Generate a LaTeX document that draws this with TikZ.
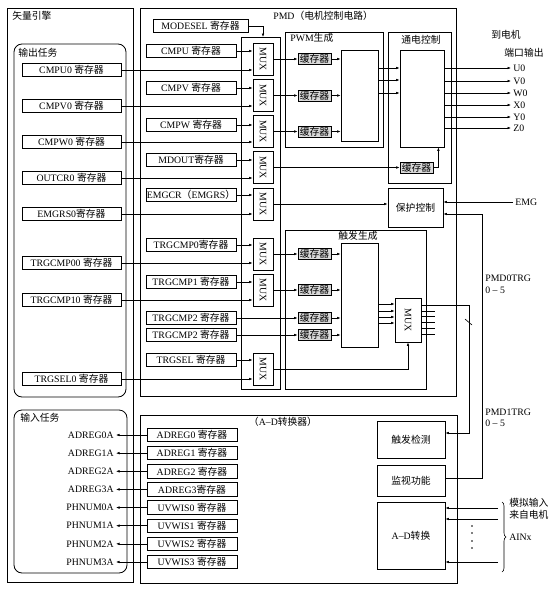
\documentclass[tikz,border=0pt]{standalone}
\usepackage{fontspec}
\setmainfont{Liberation Serif}
\newfontfamily\cjk{Noto Sans CJK SC}
\newcommand\zh[1]{{\cjk #1}}
\usetikzlibrary{arrows.meta,decorations.pathreplacing,calc}
\begin{document}
\begin{tikzpicture}[x=1pt,y=-1pt, line width=0.6pt, font=\fontsize{9.8}{11}\selectfont,
 reg/.style={draw, line width=0.8pt, minimum height=13.5pt, inner sep=0pt},
 lreg/.style={reg, minimum width=99pt},
 preg/.style={reg, minimum width=90pt},
 mux/.style={draw, line width=0.8pt, minimum width=20pt, minimum height=32pt, inner sep=0pt},
 buf/.style={draw, line width=0.8pt, fill=gray!30, minimum width=33pt, minimum height=11pt, inner sep=0pt},
 blk/.style={draw, line width=0.8pt, inner sep=0pt},
 frame/.style={draw, line width=0.8pt},
 txt/.style={inner sep=1pt},
 arr/.style={-{Latex[length=3.5pt,width=2.6pt]}}]
\useasboundingbox (0,0) rectangle (553,589);

% ---------- frames ----------
\draw[frame] (7,8) rectangle (133,582);
\node[txt, anchor=north west] (ve) at (11,10) {\zh{矢量引擎}};
\draw[frame, rounded corners=8pt] (14,44) rectangle (126,397);
\node[txt, anchor=north west] (ot) at (17,47) {\zh{输出任务}};
\draw[frame, rounded corners=8pt] (14,410) rectangle (127,573);
\node[txt, anchor=north west] (it) at (19,412) {\zh{输入任务}};
\draw[frame] (140,8) rectangle (456,396);
\node[txt, anchor=north west] (pmd) at (272,10) {PMD\zh{（电机控制电路）}};
\draw[frame] (140,415) rectangle (457,583);
\node[txt] (adl) at (283,422) {\zh{（}A–D\zh{转换器）}};
\draw[frame] (241,37) rectangle (280,389);
\coordinate (mctop) at (263,37);

% ---------- left registers ----------
\node[lreg] (cmpu0) at (71.5,70) {CMPU0 \zh{寄存器}};
\node[lreg] (cmpv0) at (71.5,106) {CMPV0 \zh{寄存器}};
\node[lreg] (cmpw0) at (71.5,142) {CMPW0 \zh{寄存器}};
\node[lreg] (outcr0) at (71.5,178) {OUTCR0 \zh{寄存器}};
\node[lreg] (emgrs0) at (71.5,214) {EMGRS0\zh{寄存器}};
\node[lreg] (trg00) at (71.5,263) {TRGCMP00 \zh{寄存器}};
\node[lreg] (trg10) at (71.5,300) {TRGCMP10 \zh{寄存器}};
\node[lreg] (tsel0) at (71.5,379) {TRGSEL0 \zh{寄存器}};

% ---------- PMD registers ----------
\node[reg, minimum width=95pt] (modesel) at (200.5,26) {MODESEL \zh{寄存器}};
\node[preg] (cmpu) at (191,51) {CMPU \zh{寄存器}};
\node[preg] (cmpv) at (191,88) {CMPV \zh{寄存器}};
\node[preg] (cmpw) at (191,125) {CMPW \zh{寄存器}};
\node[preg] (mdout) at (191,160) {MDOUT\zh{寄存器}};
\node[preg] (emgcr) at (191,195) {EMGCR\zh{（}EMGRS\zh{）}};
\node[preg] (trg0) at (191,245) {TRGCMP0\zh{寄存器}};
\node[preg] (trg1) at (191,282) {TRGCMP1 \zh{寄存器}};
\node[preg] (trg2a) at (191,318) {TRGCMP2 \zh{寄存器}};
\node[preg] (trg2b) at (191,335) {TRGCMP2 \zh{寄存器}};
\node[preg] (tsel) at (191,360) {TRGSEL \zh{寄存器}};

% ---------- MUXes ----------
\node[mux] (m1) at (263,59) {\rotatebox{-90}{MUX}};
\node[mux] (m2) at (263,95.5) {\rotatebox{-90}{MUX}};
\node[mux] (m3) at (263,131.5) {\rotatebox{-90}{MUX}};
\node[mux] (m4) at (263,167.5) {\rotatebox{-90}{MUX}};
\node[mux] (m5) at (263,204) {\rotatebox{-90}{MUX}};
\node[mux] (m6) at (263,254) {\rotatebox{-90}{MUX}};
\node[mux] (m7) at (263,290) {\rotatebox{-90}{MUX}};
\node[mux] (m8) at (263,369) {\rotatebox{-90}{MUX}};

% ---------- PWM generation ----------
\draw[frame] (285,32) rectangle (383,147);
\node[txt, anchor=north west] (pwml) at (289,32) {PWM\zh{生成}};
\node[blk, minimum width=37pt, minimum height=91pt] (pblk) at (359.5,95.5) {};
\node[buf] (pb1) at (314.5,59) {\zh{缓存器}};
\node[buf] (pb2) at (314.5,95.5) {\zh{缓存器}};
\node[buf] (pb3) at (314.5,131.5) {\zh{缓存器}};

% ---------- energize control ----------
\draw[frame] (388,32) rectangle (451,183);
\node[txt] (tdl) at (421,40) {\zh{通电控制}};
\node[blk, minimum width=44pt, minimum height=97pt] (tin) at (422,98.5) {};
\node[buf] (tbuf) at (416.5,167.5) {\zh{缓存器}};

% ---------- protection ----------
\node[blk, minimum width=55pt, minimum height=39pt] (prot) at (415.5,207.5) {\zh{保护控制}};

% ---------- trigger generation ----------
\draw[frame] (285,230) rectangle (426,389);
\node[txt] (trgl) at (358,236) {\zh{触发生成}};
\node[blk, minimum width=37pt, minimum height=104pt] (tblk) at (359.5,295) {};
\node[buf] (tb1) at (314.5,254) {\zh{缓存器}};
\node[buf] (tb2) at (314.5,290) {\zh{缓存器}};
\node[buf] (tb3) at (314.5,318) {\zh{缓存器}};
\node[buf] (tb4) at (314.5,335) {\zh{缓存器}};
\node[mux, minimum width=26pt, minimum height=44pt] (tmux) at (408,320) {\rotatebox{-90}{MUX}};

% ---------- right labels ----------
\node[txt] (tom) at (506,35) {\zh{到电机}};
\node[txt] (port) at (524,53) {\zh{端口输出}};
\node[inner sep=2pt, anchor=west] (u0) at (511,68) {U0};
\node[inner sep=2pt, anchor=west] (v0) at (511,81) {V0};
\node[inner sep=2pt, anchor=west] (w0) at (511,93) {W0};
\node[inner sep=2pt, anchor=west] (x0) at (511,105) {X0};
\node[inner sep=2pt, anchor=west] (y0) at (511,117) {Y0};
\node[inner sep=2pt, anchor=west] (z0) at (511,128) {Z0};
\node[inner sep=2pt, anchor=west] (emg) at (513,202) {EMG};
\node[txt, anchor=west] (p0a) at (484,278) {PMD0TRG};
\node[txt, anchor=west] (p0b) at (484,290) {0 – 5};
\node[txt, anchor=west] (p1a) at (484,412) {PMD1TRG};
\node[txt, anchor=west] (p1b) at (484,423) {0 – 5};

% ---------- A-D right blocks ----------
\node[blk, minimum width=68pt, minimum height=37pt] (trigdet) at (411,439.5) {\zh{触发检测}};
\node[blk, minimum width=68pt, minimum height=31pt] (monitor) at (411,480.5) {\zh{监视功能}};
\node[blk, minimum width=68pt, minimum height=67pt] (adconv) at (411,535.5) {A–D\zh{转换}};
\coordinate (ain1) at (498,508);
\coordinate (ain2) at (498,519);
\coordinate (ain3) at (498,562);
\node[txt, anchor=west] (an1) at (508,503) {\zh{模拟输入}};
\node[txt, anchor=west] (an2) at (508,515) {\zh{来自电机}};
\node[txt, anchor=west] (an3) at (508,537) {AINx};

% ---------- input task ----------
\foreach \i/\lab/\rg in {0/ADREG0A/ADREG0 \zh{寄存器},1/ADREG1A/ADREG1 \zh{寄存器},2/ADREG2A/ADREG2 \zh{寄存器},3/ADREG3A/ADREG3\zh{寄存器},4/PHNUM0A/UVWIS0 \zh{寄存器},5/PHNUM1A/UVWIS1 \zh{寄存器},6/PHNUM2A/UVWIS2 \zh{寄存器},7/PHNUM3A/UVWIS3 \zh{寄存器}}{
  \node[inner sep=2pt, anchor=east] (il\i) at (116,435+18.14*\i) {\lab};
  \node[preg] (ir\i) at (192,435+18.14*\i) {\rg};
  \draw[arr] (ir\i.west) -- (il\i.east);
}

% ---------- connectors ----------
\draw[arr] (modesel.east) -| (mctop);
\foreach \r/\m in {cmpu0/m1,cmpv0/m2,cmpw0/m3,outcr0/m4,emgrs0/m5,trg00/m6,trg10/m7,tsel0/m8,
                   cmpu/m1,cmpv/m2,cmpw/m3,mdout/m4,emgcr/m5,trg0/m6,trg1/m7,tsel/m8}{
  \draw[arr] (\r.east) -- (\r.east -| \m.west);
}
\draw[arr] (trg2a.east) -- (tb3.west);
\draw[arr] (trg2b.east) -- (tb4.west);
\draw[arr] (m1.east) -- (pb1.west);
\draw[arr] (m2.east) -- (pb2.west);
\draw[arr] (m3.east) -- (pb3.west);
\foreach \b in {pb1,pb2,pb3}{ \draw[arr] (\b.east) -- (\b.east -| pblk.west); }
\foreach \yy in {68,80,93}{ \draw[arr] (pblk.east |- 0,\yy) -- (tin.west |- 0,\yy); }
\foreach \o in {u0,v0,w0,x0,y0,z0}{ \draw[arr] (tin.east |- \o.west) -- (\o.west); }
\draw[arr] (m4.east) -- (m4.east -| tbuf.west);
\draw[arr] (tbuf.east) -| ([xshift=-6pt]tin.south east);
\draw[arr] (m5.east) -- (m5.east -| prot.west);
\draw[arr] (emg.west) -- (emg.west -| prot.east);
\draw[arr] (monitor.east |- 0,478) -- (482,478) -- (482,214) -- (prot.east |- 0,214);
\draw[arr] (m6.east) -- (tb1.west);
\draw[arr] (m7.east) -- (tb2.west);
\foreach \b in {tb1,tb2,tb3,tb4}{ \draw[arr] (\b.east) -- (\b.east -| tblk.west); }
\foreach \yy in {304,311,317,323}{ \draw[arr] (tblk.east |- 0,\yy) -- (tmux.west |- 0,\yy); }
\foreach \yy in {311,316,322,328,334}{ \draw (tmux.east |- 0,\yy) -- (435,\yy); }
\draw[arr] (tmux.east |- 0,305) -- (469,305) -- (469,433) -- (trigdet.east |- 0,433);
\draw (465,319) -- (472,325);
\draw[arr] (m8.east) -| (tmux.south);
\foreach \a in {ain1,ain2,ain3}{ \draw[arr] (\a) -- (\a -| adconv.east); }
\foreach \yy in {526,533,541,548}{ \fill (472,\yy) circle (0.8pt); }
\draw[decorate, decoration={brace, amplitude=4pt}] (502,502) -- (502,572);
\end{tikzpicture}
\end{document}
